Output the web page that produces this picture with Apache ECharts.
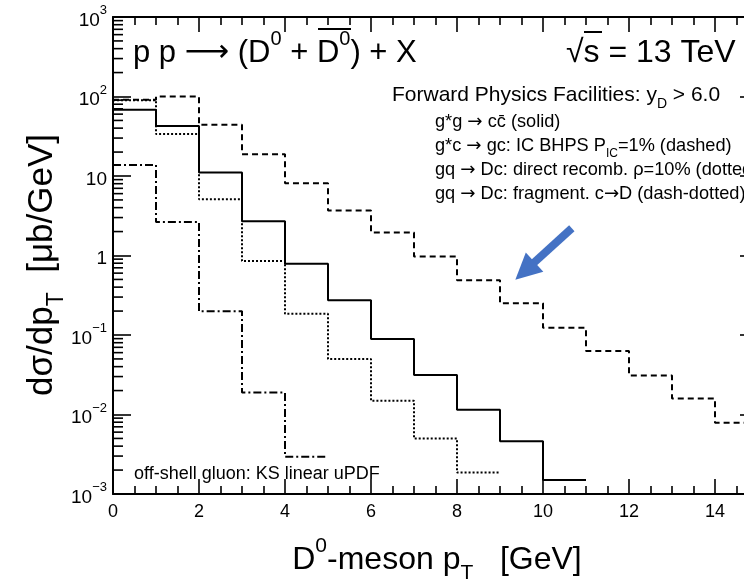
<!DOCTYPE html>
<html><head><meta charset="utf-8">
<script src="https://cdn.jsdelivr.net/npm/echarts@6/dist/echarts.min.js"></script>
<style>html,body{margin:0;padding:0;background:#fff}#c{width:744px;height:585px}</style>
</head><body><div id="c"></div>
<script>
// ---- data ----
const binEdges = [0,1,2,3,4,5,6,7,8,9,10,11,12,13,14,15];
const gluonGluon     = [68, 42.5, 11.1, 2.7, 0.79, 0.274, 0.089, 0.0314, 0.0115, 0.0046, 0.0015];
const intrinsicCharm = [91, 100, 44, 18.8, 8.1, 3.67, 1.95, 0.97, 0.49, 0.25, 0.123, 0.063, 0.031, 0.0159, 0.0079];
const directRecomb   = [90, 33.7, 5.1, 0.85, 0.185, 0.05, 0.0149, 0.005, 0.00186];
const fragmentation  = [13.8, 2.64, 0.199, 0.0189, 0.00295];
const xTickLabels = [0,2,4,6,8,10,12,14];
const yDecades = [1e-3,1e-2,1e-1,1,10,100,1000];
const arrowTail = [10.67, 2.2];
const arrowHead = [9.58, 0.64];

const FONT = 'Liberation Sans, Arial, Helvetica, sans-serif';

function steps(vals){
  const pts = vals.map((v,i)=>[binEdges[i], v]);
  pts.push([binEdges[vals.length], vals[vals.length-1]]);
  return pts;
}
const minorVals = [];
yDecades.slice(0,-1).forEach(d=>{ for(let k=2;k<=9;k++) minorVals.push(+(k*d).toPrecision(3)); });

function richFor(size){
  return {
    n:{fontSize:size, fontFamily:FONT, fill:'#000', lineHeight:Math.round(size*1.5), verticalAlign:'middle'},
    ar:{fontSize:size, fontFamily:'DejaVu Sans', fill:'#000', verticalAlign:'middle'},
    sup:{fontSize:Math.round(size*0.66), fontFamily:FONT, fill:'#000', verticalAlign:'top'},
    sub:{fontSize:Math.round(size*0.66), fontFamily:FONT, fill:'#000', verticalAlign:'bottom'}
  };
}
function txt(text, size, x, y, align, extra){
  return Object.assign({type:'text', x:x, y:y, silent:true,
    style:{text:text, fontSize:size, fontFamily:FONT, fill:'#000', align:align||'left', verticalAlign:'middle', rich:richFor(size)}}, extra||{});
}

const TICK = {color:'#000', width:1.6};
const axisLine = {show:true, onZero:false, lineStyle:{color:'#000', width:2}};
const chart = echarts.init(document.getElementById('c'));
const lineBase = {type:'line', step:'end', symbol:'none', showSymbol:false, animation:false, silent:true, clip:true};

chart.setOption({
  animation:false,
  backgroundColor:'#fff',
  grid:{left:113, top:17, width:645, height:477, containLabel:false, outerBoundsMode:'none'},
  xAxis:[
    {type:'value', position:'bottom', min:0, max:15, interval:2,
     axisLine:axisLine, splitLine:{show:false},
     axisTick:{show:true, inside:true, length:15, lineStyle:TICK},
     minorTick:{show:true, splitNumber:4, length:8, lineStyle:TICK},
     axisLabel:{show:true, margin:9, color:'#000', fontSize:18, fontFamily:FONT,
       formatter:v=> xTickLabels.indexOf(v)>=0 ? String(v) : ''}},
    {type:'value', position:'top', min:0, max:15, interval:2,
     axisLine:axisLine, splitLine:{show:false},
     axisTick:{show:true, inside:true, length:15, lineStyle:TICK},
     minorTick:{show:true, splitNumber:4, length:8, lineStyle:TICK},
     axisLabel:{show:false}}
  ],
  yAxis:[
    {type:'log', logBase:10, min:1e-3, max:1e3, interval:1, position:'left',
     axisLine:axisLine, splitLine:{show:false},
     axisTick:{show:true, inside:true, length:18, lineStyle:TICK},
     axisLabel:{show:true, margin:6, color:'#000', fontSize:19, fontFamily:FONT,
       formatter:function(v){
         const e = Math.round(Math.log10(v));
         if(e===0) return '{b|1}';
         if(e===1) return '{b|10}';
         return '{b|10}{s|' + (e<0 ? '\u2212'+(-e) : e) + '}';
       },
       rich:{b:{fontSize:19, fontFamily:FONT, color:'#000', lineHeight:26, verticalAlign:'bottom'},
             s:{fontSize:13, fontFamily:FONT, color:'#000', verticalAlign:'top', lineHeight:14}}}},
    {type:'log', logBase:10, min:1e-3, max:1e3, interval:1, position:'right',
     axisLine:axisLine, splitLine:{show:false}, axisLabel:{show:false},
     axisTick:{show:true, inside:true, length:18, lineStyle:TICK}}
  ],
  series:[
    Object.assign({}, lineBase, {name:'g*g', data:steps(gluonGluon),
      lineStyle:{color:'#000', width:2, type:'solid'}}),
    Object.assign({}, lineBase, {name:'IC', data:steps(intrinsicCharm),
      lineStyle:{color:'#000', width:2, type:[6,4]},
      markLine:{silent:true, animation:false, symbol:['none','triangle'], symbolSize:26,
        label:{show:false}, emphasis:{disabled:true},
        lineStyle:{color:'#4472C4', width:8, type:'solid'}, itemStyle:{color:'#4472C4'},
        data:[[{coord:arrowTail},{coord:arrowHead}]]}}),
    Object.assign({}, lineBase, {name:'recomb', data:steps(directRecomb),
      lineStyle:{color:'#000', width:2, type:[2,2]}}),
    Object.assign({}, lineBase, {name:'frag', data:steps(fragmentation),
      lineStyle:{color:'#000', width:2, type:[8,3,2,3]}}),
    {type:'custom', name:'yMinorTicks', silent:true, animation:false, clip:false, z:5,
     data:minorVals.map(v=>[0, v]), encode:{x:0, y:1},
     renderItem:function(params, api){
       const p = api.coord([0, api.value(1)]);
       return {type:'line', shape:{x1:p[0], y1:p[1], x2:p[0]+10, y2:p[1]}, style:{stroke:'#000', lineWidth:1.6}};
     }}
  ],
  graphic:[
    txt('{n|p p }{ar|\u27F6}{n| (D}{sup|0}{n| + D}{sup|0}{n|) + X}', 31, 133, 53),
    {type:'line', silent:true, shape:{x1:318, y1:29, x2:351, y2:29}, style:{stroke:'#000', lineWidth:2}},
    txt('{n|\u221As = 13 TeV}', 32, 566, 53),
    {type:'line', silent:true, shape:{x1:584, y1:32, x2:602, y2:32}, style:{stroke:'#000', lineWidth:2}},
    txt('{n|Forward Physics Facilities: y}{sub|D}{n| > 6.0}', 21, 392, 95),
    txt('{n|g*g }{ar|\u2192}{n| cc\u0304 (solid)}', 18.2, 435, 122),
    txt('{n|g*c }{ar|\u2192}{n| gc: IC BHPS P}{sub|IC}{n|=1% (dashed)}', 18.2, 435, 146),
    txt('{n|gq }{ar|\u2192}{n| Dc: direct recomb. \u03C1=10% (dotted)}', 18.2, 435, 170),
    txt('{n|gq }{ar|\u2192}{n| Dc: fragment. c}{ar|\u2192}{n|D (dash-dotted)}', 18.2, 435, 194),
    txt('{n|off-shell gluon: KS linear uPDF}', 18, 134, 474),
    txt('{n|D}{sup|0}{n|-meson p}{sub|T}{n|   [GeV]}', 32, 437, 560, 'center'),
    txt('{n|d\u03C3/dp}{sub|T}{n|  [\u03BCb/GeV]}', 35, 42, 265, 'center', {rotation:Math.PI/2})
  ]
});
</script></body></html>
